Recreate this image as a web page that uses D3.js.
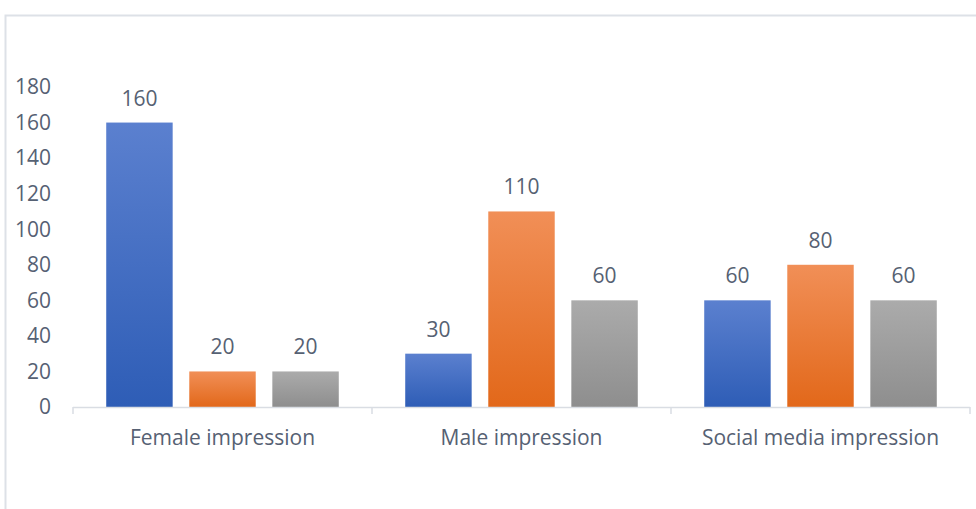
<!DOCTYPE html>
<html>
<head>
  <meta charset="utf-8">
  <title>Impressions</title>
  <style>
    body { margin: 0; background: #fff; }
    text { font-family: "Open Sans", Lato, sans-serif; fill: #566173; font-size: 21px; }
  </style>
</head>
<body>
  <div id="chart"></div>
  <script src="https://cdn.jsdelivr.net/npm/d3@7"></script>
  <script>
    var categories = ["Female impression", "Male impression", "Social media impression"];
    var seriesA = [160, 30, 60];
    var seriesB = [20, 110, 80];
    var seriesC = [20, 60, 60];
    var yTicks = [0, 20, 40, 60, 80, 100, 120, 140, 160, 180];

    var width = 976, height = 509;
    var margin = {top: 87, right: 6, bottom: 102, left: 73};

    var svg = d3.select("#chart").append("svg")
      .attr("width", width)
      .attr("height", height);

    // outer frame (only top and left edges are visible)
    svg.append("path")
      .attr("d", "M5.5," + height + "V15.5H" + width)
      .attr("fill", "none")
      .attr("stroke", "#dde1e7")
      .attr("stroke-width", 2);

    var series = [
      {values: seriesA, top: "#5b80cf", bottom: "#2e5db6"},
      {values: seriesB, top: "#f18f57", bottom: "#e2681a"},
      {values: seriesC, top: "#ababab", bottom: "#8e8e8e"}
    ];

    var defs = svg.append("defs");
    series.forEach(function(s, i) {
      var g = defs.append("linearGradient")
        .attr("id", "grad" + i)
        .attr("x1", 0).attr("y1", 0).attr("x2", 0).attr("y2", 1);
      g.append("stop").attr("offset", "0%").attr("stop-color", s.top);
      g.append("stop").attr("offset", "100%").attr("stop-color", s.bottom);
    });

    var x0 = d3.scaleBand()
      .domain(categories)
      .range([margin.left, width - margin.right]);

    var x1 = d3.scaleBand()
      .domain(d3.range(series.length))
      .range([0, x0.bandwidth()])
      .paddingInner(0.2)
      .paddingOuter(0.4);

    var y = d3.scaleLinear()
      .domain([0, 180])
      .range([height - margin.bottom, margin.top]);

    // y tick labels
    svg.append("g")
      .selectAll("text")
      .data(yTicks)
      .join("text")
      .attr("x", 51)
      .attr("y", function(d) { return y(d); })
      .attr("dy", "0.35em")
      .attr("text-anchor", "end")
      .text(function(d) { return d; });

    // bars
    var groups = svg.append("g")
      .selectAll("g")
      .data(categories)
      .join("g")
      .attr("transform", function(d) { return "translate(" + x0(d) + ",0)"; });

    groups.selectAll("rect")
      .data(function(d, ci) {
        return series.map(function(s, si) { return {si: si, v: s.values[ci]}; });
      })
      .join("rect")
      .attr("x", function(d) { return x1(d.si); })
      .attr("y", function(d) { return y(d.v); })
      .attr("width", x1.bandwidth())
      .attr("height", function(d) { return y(0) - y(d.v); })
      .attr("fill", function(d) { return "url(#grad" + d.si + ")"; });

    groups.selectAll("text.val")
      .data(function(d, ci) {
        return series.map(function(s, si) { return {si: si, v: s.values[ci]}; });
      })
      .join("text")
      .attr("class", "val")
      .attr("x", function(d) { return x1(d.si) + x1.bandwidth() / 2; })
      .attr("y", function(d) { return y(d.v) - 17; })
      .attr("text-anchor", "middle")
      .text(function(d) { return d.v; });

    // x axis
    var axis = svg.append("g")
      .attr("transform", "translate(0," + y(0) + ")");

    axis.append("line")
      .attr("x1", x0.range()[0]).attr("x2", x0.range()[1])
      .attr("y1", 0.5).attr("y2", 0.5)
      .attr("stroke", "#d9dde3")
      .attr("stroke-width", 1.5);

    var bounds = categories.map(function(c) { return x0(c); }).concat([x0.range()[1]]);
    axis.selectAll("line.tick")
      .data(bounds)
      .join("line")
      .attr("class", "tick")
      .attr("x1", function(d) { return d; }).attr("x2", function(d) { return d; })
      .attr("y1", 0).attr("y2", 7)
      .attr("stroke", "#d9dde3")
      .attr("stroke-width", 1.5);

    axis.selectAll("text")
      .data(categories)
      .join("text")
      .attr("x", function(d) { return x0(d) + x0.bandwidth() / 2; })
      .attr("y", 31)
      .attr("dy", "0.35em")
      .attr("text-anchor", "middle")
      .text(function(d) { return d; });
  </script>
</body>
</html>
